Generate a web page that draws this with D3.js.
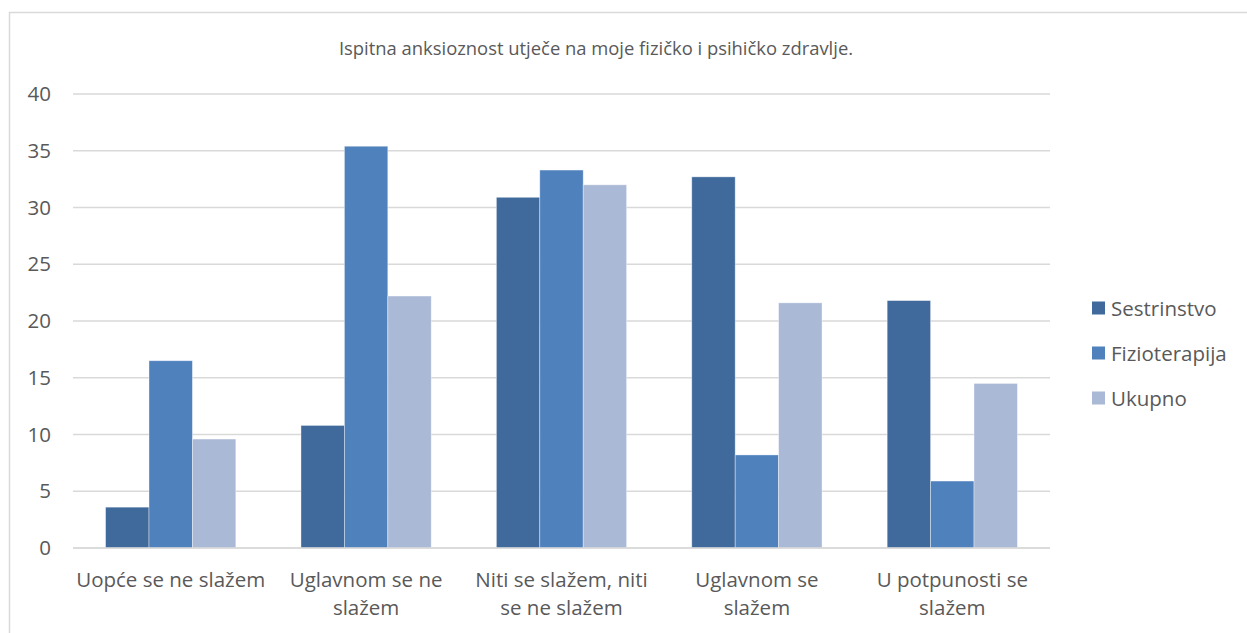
<!DOCTYPE html>
<html>
<head>
<meta charset="utf-8">
<script src="https://cdn.jsdelivr.net/npm/d3@7"></script>
<style>
  body { margin: 0; background: #fff; }
  svg { display: block; font-family: "Open Sans", Lato, sans-serif; }
</style>
</head>
<body>
<div id="chart"></div>
<script>
const categories = [
    "Uopće se ne slažem",
    "Uglavnom se ne slažem",
    "Niti se slažem, niti se ne slažem",
    "Uglavnom se slažem",
    "U potpunosti se slažem"
];
// how the category labels wrap under the axis
const categoryLines = [
    ["Uopće se ne slažem"],
    ["Uglavnom se ne", "slažem"],
    ["Niti se slažem, niti", "se ne slažem"],
    ["Uglavnom se", "slažem"],
    ["U potpunosti se", "slažem"]
];
const seriesNames = ["Sestrinstvo", "Fizioterapija", "Ukupno"];
const sestrinstvo = [3.6, 10.8, 30.9, 32.7, 21.8];
const fizioterapija = [16.5, 35.4, 33.3, 8.2, 5.9];
const ukupno = [9.6, 22.2, 32.0, 21.6, 14.5];
const yTicks = [0, 5, 10, 15, 20, 25, 30, 35, 40];
const title = "Ispitna anksioznost utječe na moje fizičko i psihičko zdravlje.";

const colors = ["#416a9c", "#4f81bd", "#aab9d6"];
const seriesValues = [sestrinstvo, fizioterapija, ukupno];

const W = 1247, H = 633;
const margin = { left: 73, right: 197, top: 94, bottom: 85 };
const width = W - margin.left - margin.right;
const height = H - margin.top - margin.bottom;

const svg = d3.select("#chart").append("svg")
    .attr("width", W)
    .attr("height", H);

// chart frame
svg.append("rect")
    .attr("x", 9.5).attr("y", 12.5)
    .attr("width", W).attr("height", H)
    .attr("fill", "none")
    .attr("stroke", "#d9d9d9")
    .attr("stroke-width", 1.5);

svg.append("text")
    .attr("x", 596).attr("y", 55)
    .attr("text-anchor", "middle")
    .attr("font-size", 18.4)
    .attr("fill", "#595959")
    .text(title);

const g = svg.append("g")
    .attr("transform", `translate(${margin.left}, ${margin.top})`);

const x0 = d3.scaleBand()
    .domain(categories)
    .range([0, width])
    .paddingInner(1 / 3)
    .paddingOuter(1 / 6);
const x1 = d3.scaleBand()
    .domain(seriesNames)
    .range([0, x0.bandwidth()]);
const y = d3.scaleLinear()
    .domain([0, 40])
    .range([height, 0]);

// gridlines
g.append("g")
    .selectAll("line")
    .data(yTicks)
    .join("line")
    .attr("x1", 0).attr("x2", width)
    .attr("y1", d => y(d)).attr("y2", d => y(d))
    .attr("stroke", "#d9d9d9")
    .attr("stroke-width", 1.5);

// y axis labels
const yAxis = g.append("g")
    .call(d3.axisLeft(y).tickValues(yTicks).tickSize(0).tickPadding(22));
yAxis.select(".domain").remove();
yAxis.selectAll("text")
    .attr("font-size", 20.5)
    .attr("font-family", "'Open Sans', Lato, sans-serif")
    .attr("fill", "#595959");

// bars
const groups = g.append("g")
    .selectAll("g")
    .data(categories)
    .join("g")
    .attr("transform", d => `translate(${x0(d)}, 0)`);

groups.selectAll("rect")
    .data((c, i) => seriesNames.map((s, j) => ({ s, j, v: seriesValues[j][i] })))
    .join("rect")
    .attr("x", d => x1(d.s))
    .attr("y", d => y(d.v))
    .attr("width", x1.bandwidth())
    .attr("height", d => y(0) - y(d.v))
    .attr("fill", d => colors[d.j])
    .attr("stroke", "#ffffff")
    .attr("stroke-opacity", 0.5)
    .attr("stroke-width", 0.75);

// baseline on top of bars
g.append("line")
    .attr("x1", 0).attr("x2", width)
    .attr("y1", y(0)).attr("y2", y(0))
    .attr("stroke", "#d9d9d9")
    .attr("stroke-width", 1.5);

// x category labels
const xLabels = g.append("g")
    .selectAll("text")
    .data(categories)
    .join("text")
    .attr("x", d => x0(d) + x0.bandwidth() / 2)
    .attr("y", height + 39)
    .attr("text-anchor", "middle")
    .attr("font-size", 20.5)
    .attr("fill", "#595959");
xLabels.each(function (d, i) {
    d3.select(this).selectAll("tspan")
        .data(categoryLines[i])
        .join("tspan")
        .attr("x", x0(d) + x0.bandwidth() / 2)
        .attr("dy", (l, k) => k === 0 ? 0 : 28)
        .text(l => l);
});

// legend
const legend = svg.append("g")
    .attr("transform", "translate(1092, 308)");
const items = legend.selectAll("g")
    .data(seriesNames)
    .join("g")
    .attr("transform", (d, i) => `translate(0, ${i * 45})`);
items.append("rect")
    .attr("x", 0).attr("y", -6.5)
    .attr("width", 13).attr("height", 13)
    .attr("fill", (d, i) => colors[i]);
items.append("text")
    .attr("x", 19).attr("y", 7.5)
    .attr("font-size", 20.5)
    .attr("fill", "#595959")
    .text(d => d);
</script>
</body>
</html>
